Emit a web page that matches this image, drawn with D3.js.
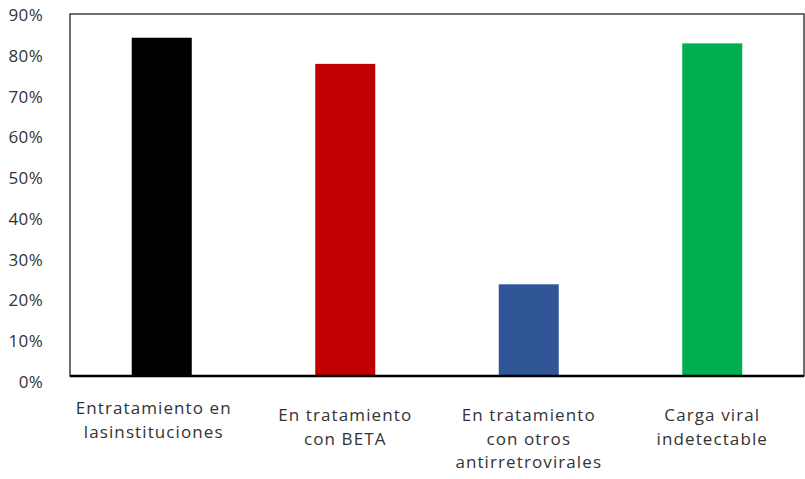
<!DOCTYPE html>
<html>
<head>
<meta charset="utf-8">
<script src="https://cdn.jsdelivr.net/npm/d3@7"></script>
<style>
  body { margin: 0; background: #fff; }
  svg text { font-family: "Open Sans", sans-serif; fill: #333; }
</style>
</head>
<body>
<div id="chart"></div>
<script>
// chart data
const categories = [
    ["Entratamiento en", "lasinstituciones"],
    ["En tratamiento", "con BETA"],
    ["En tratamiento", "con otros", "antirretrovirales"],
    ["Carga viral", "indetectable"]
];
const values = [0.841, 0.776, 0.228, 0.827];
const barColors = ["#000000", "#C00000", "#2F5597", "#00B050"];
const yTicks = [0, 0.1, 0.2, 0.3, 0.4, 0.5, 0.6, 0.7, 0.8, 0.9];

const W = 805, H = 479;
const plot = { left: 70, right: 804, top: 14, bottom: 376 };

const svg = d3.select("#chart")
    .append("svg")
    .attr("width", W)
    .attr("height", H);

const xScale = d3.scaleBand()
    .domain(d3.range(categories.length))
    .range([plot.left, plot.right])
    .paddingInner(0.673)
    .paddingOuter(0.3365);

const yScale = d3.scaleLinear()
    .domain([0, 0.9])
    .range([plot.bottom, plot.top]);

// bars
svg.selectAll(".bar")
    .data(values)
    .enter()
    .append("rect")
    .attr("class", "bar")
    .attr("x", (d, i) => xScale(i))
    .attr("width", xScale.bandwidth())
    .attr("y", d => yScale(d))
    .attr("height", d => yScale(0) - yScale(d))
    .attr("fill", (d, i) => barColors[i]);

// plot frame
svg.append("rect")
    .attr("x", plot.left)
    .attr("y", plot.top)
    .attr("width", plot.right - plot.left)
    .attr("height", plot.bottom - plot.top)
    .attr("fill", "none")
    .attr("stroke", "#222")
    .attr("stroke-width", 1.3);

// x axis line (thicker)
svg.append("line")
    .attr("x1", plot.left)
    .attr("x2", plot.right)
    .attr("y1", plot.bottom)
    .attr("y2", plot.bottom)
    .attr("stroke", "#000")
    .attr("stroke-width", 2.5);

// y axis labels
const yAxis = svg.append("g")
    .attr("transform", `translate(${plot.left},0)`)
    .call(d3.axisLeft(yScale).tickValues(yTicks).tickFormat(d3.format(".0%")).tickSize(0).tickPadding(27));
yAxis.select(".domain").remove();
yAxis.selectAll("text")
    .attr("dy", "0.34em")
    .attr("transform", d => `translate(0,${1 + (0.9 - d) * 5})`)
    .style("font-size", "17px")
    .style("letter-spacing", "0.3px")
    .style("font-family", "'Open Sans', sans-serif")
    .style("fill", "#333");

// x category labels
const xLabels = svg.selectAll(".xlabel")
    .data(categories)
    .enter()
    .append("text")
    .attr("class", "xlabel")
    .attr("text-anchor", "middle")
    .attr("x", (d, i) => xScale(i) + xScale.bandwidth() / 2 - (i === 0 ? 8 : 0))
    .attr("y", (d, i) => i === 0 ? 414 : 421)
    .style("font-size", "17px")
    .style("letter-spacing", "1.1px");

xLabels.selectAll("tspan")
    .data(d => d)
    .enter()
    .append("tspan")
    .attr("x", function () { return d3.select(this.parentNode).attr("x"); })
    .attr("dy", (d, i) => i === 0 ? 0 : 23.7)
    .text(d => d);
</script>
</body>
</html>
